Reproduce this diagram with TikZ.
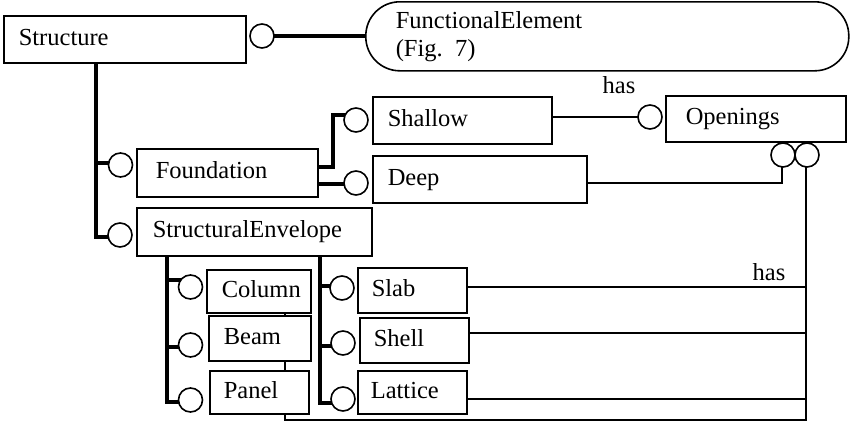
\documentclass[tikz,border=0pt]{standalone}
\usepackage{fontspec}
\setmainfont{Liberation Serif}
\usetikzlibrary{backgrounds}
\begin{document}
\begin{tikzpicture}[x=1pt,y=-1pt,
  txtfont/.style={font=\fontsize{24.5}{28}\selectfont},
  box/.style={draw, line width=1.6pt, fill=white, inner ysep=0pt, align=left,
    text height=16pt, text depth=4pt, anchor=north west, txtfont},
  port/.style={draw, circle, line width=1.6pt, fill=white, minimum size=24pt, inner sep=0pt},
  thinline/.style={line width=1.6pt},
  heavy/.style={line width=4pt},
  lbl/.style={txtfont, inner sep=0pt, anchor=base}]
\useasboundingbox (0,0) rectangle (855,424);

% boxes
\node[box, inner xsep=15pt, text width=212pt, minimum width=242pt, minimum height=47pt] (st) at (3,15) {Structure};
\node[draw, line width=1.6pt, rounded corners=34pt, anchor=north west, minimum width=483pt,
  minimum height=69pt, inner xsep=30pt, inner ysep=0pt, text width=423pt, align=left, txtfont] (fe) at (365,1)
  {FunctionalElement\\(Fig. 7)};
\node[box, inner xsep=19pt, text width=143pt, minimum width=181pt, minimum height=48pt] (fnd) at (136,148) {Foundation};
\node[box, inner xsep=15pt, text width=149pt, minimum width=179pt, minimum height=47pt] (sh) at (372,96) {Shallow};
\node[box, inner xsep=15pt, text width=184pt, minimum width=214pt, minimum height=47pt] (dp) at (372,155) {Deep};
\node[box, inner xsep=20pt, text width=140pt, minimum width=180pt, minimum height=46pt] (op) at (665,95) {Openings};
\node[box, inner xsep=16pt, text width=203pt, minimum width=235pt, minimum height=48pt] (env) at (136,207) {StructuralEnvelope};
\node[box, inner xsep=15pt, text width=74pt, minimum width=104pt, minimum height=43pt] (col) at (206,269) {Column};
\node[box, inner xsep=15pt, text width=72pt, minimum width=102pt, minimum height=45pt] (bm) at (208,315) {Beam};
\node[box, inner xsep=14pt, text width=71pt, minimum width=99pt, minimum height=43pt] (pn) at (209,370) {Panel};
\node[box, inner xsep=14pt, text width=81pt, minimum width=109pt, minimum height=45pt] (sl) at (357,267) {Slab};
\node[box, inner xsep=14pt, text width=81pt, minimum width=109pt, minimum height=45pt] (she) at (359,317) {Shell};
\node[box, inner xsep=13pt, text width=83pt, minimum width=109pt, minimum height=43pt] (lat) at (357,370) {Lattice};

% ports
\node[port] (cS) at (262,36) {};
\node[port] (cF) at (120.5,165) {};
\node[port] (cE) at (120,235) {};
\node[port] (cSh) at (356,120) {};
\node[port] (cD) at (356,183) {};
\node[port] (cO) at (650,117) {};
\node[port] (cO1) at (783,155) {};
\node[port] (cO2) at (807,155) {};
\node[port] (cCol) at (190.5,287) {};
\node[port] (cBeam) at (190.5,345) {};
\node[port] (cPan) at (190.5,400) {};
\node[port] (cSlab) at (342,288) {};
\node[port] (cShell) at (343,343) {};
\node[port] (cLat) at (343,399) {};

% labels
\node[lbl] (has1) at (619,93) {has};
\node[lbl] (has2) at (769,280) {has};

\begin{scope}[on background layer]
  % thick links
  \draw[heavy] (cS.center) -- (cS.center -| fe.west);
  \draw[heavy] (st.south -| 96,0) -- (96,237) -- (cE.center |- 0,237);
  \draw[heavy] (96,163) -- (cF.center |- 0,163);
  \draw[heavy] (fnd.east |- 0,167) -- (333,167) -- (333,115) -- (cSh.center |- 0,115);
  \draw[heavy] (fnd.east |- 0,184) -- (cD.center |- 0,184);
  \draw[heavy] (env.south -| 167,0) -- (167,402) -- (cPan.center |- 0,402);
  \draw[heavy] (167,280) -- (cCol.center |- 0,280);
  \draw[heavy] (167,347) -- (cBeam.center |- 0,347);
  \draw[heavy] (env.south -| 320,0) -- (320,403) -- (cLat.center |- 0,403);
  \draw[heavy] (320,286) -- (cSlab.center |- 0,286);
  \draw[heavy] (320,346) -- (cShell.center |- 0,346);
  % thin links
  \draw[thinline] (sh.east |- cO.center) -- (cO.center);
  \draw[thinline] (dp.east |- 0,183) -- (782,183) -- (cO1.center -| 782,0);
  \draw[thinline] (cO2.center -| 806,0) -- (806,420) -- (285,420) -- (col.south -| 285,0);
  \draw[thinline] (sl.east |- 0,287) -- (806,287);
  \draw[thinline] (she.east |- 0,333) -- (806,333);
  \draw[thinline] (lat.east |- 0,399) -- (806,399);
\end{scope}
\end{tikzpicture}
\end{document}
